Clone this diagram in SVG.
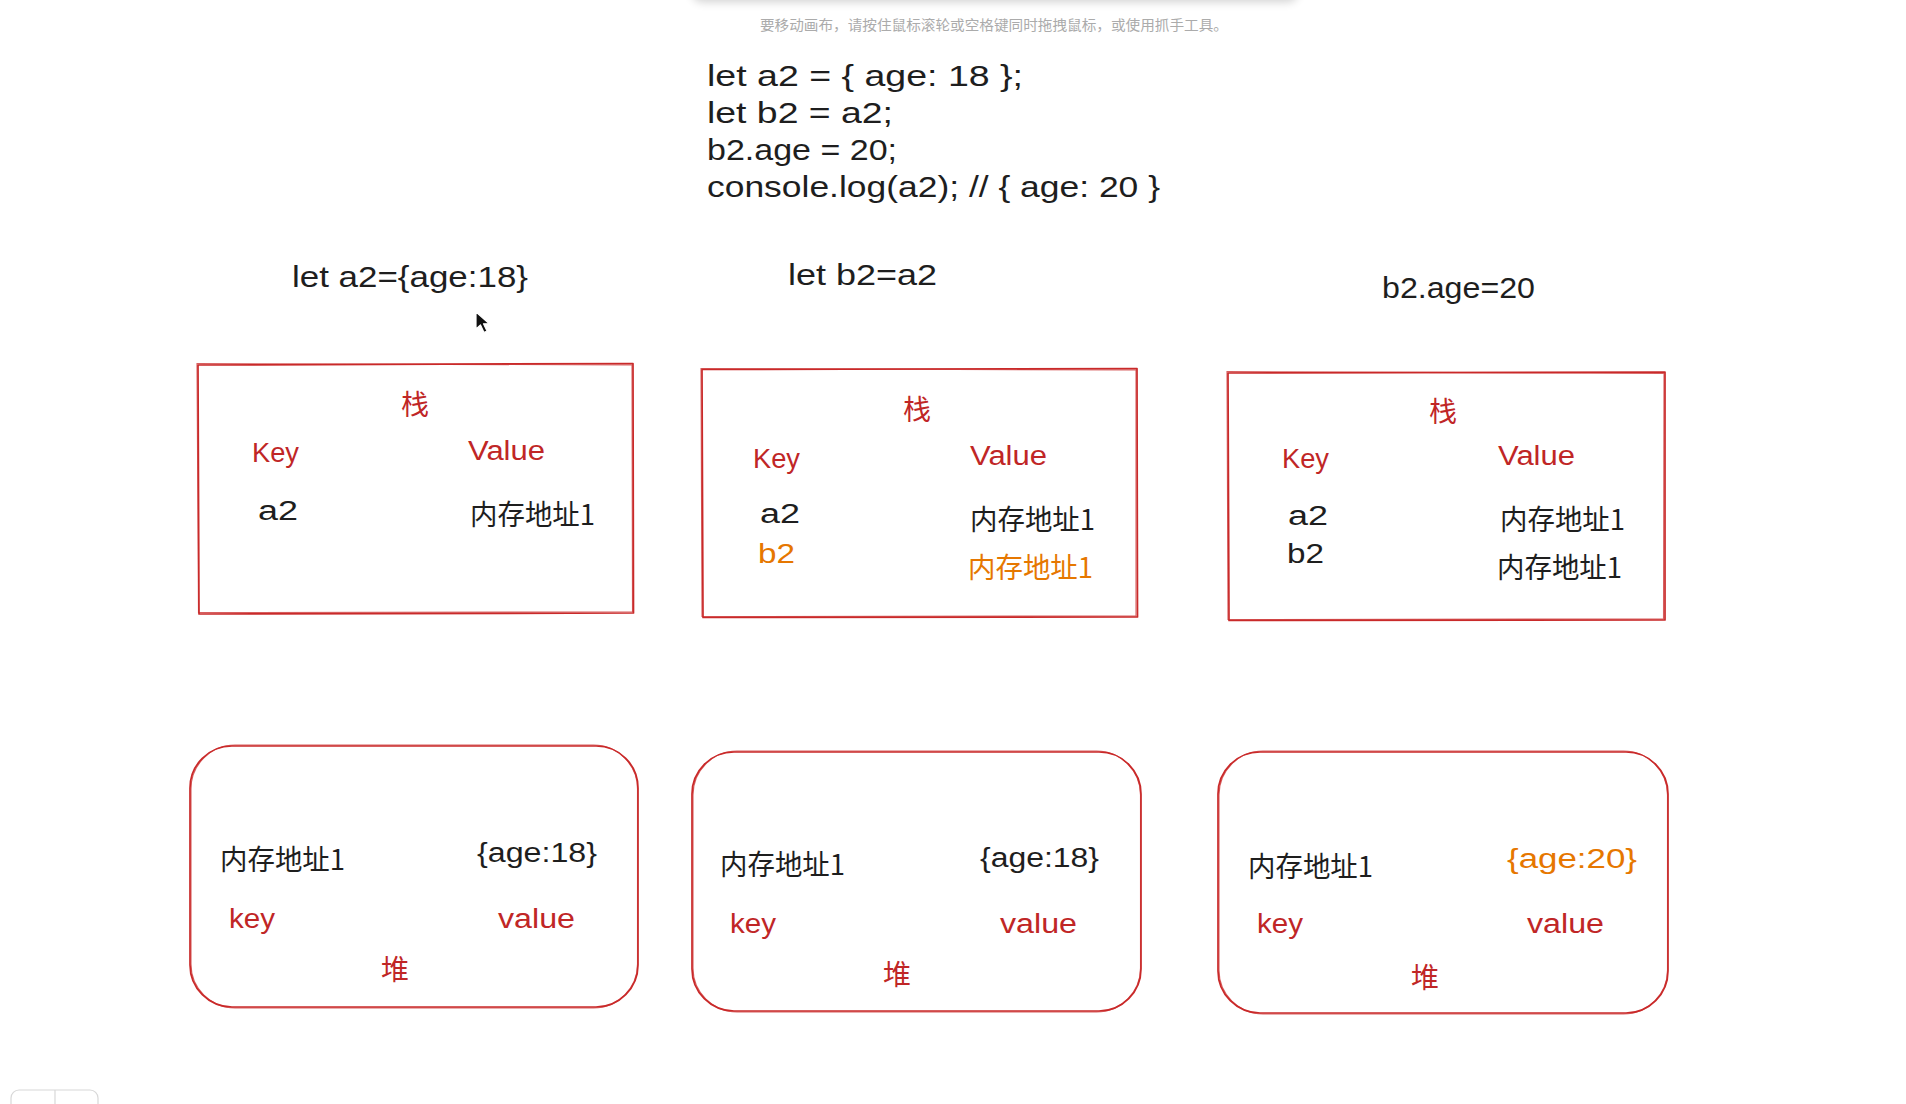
<svg xmlns="http://www.w3.org/2000/svg" width="1906" height="1104" viewBox="0 0 1906 1104">
<defs>
<filter id="sh" x="-10%" y="-100%" width="120%" height="400%">
<feGaussianBlur stdDeviation="5"/>
</filter>
<style>
.box{fill:none;stroke:#c92a2a;stroke-width:1.7;stroke-linejoin:round}
.box2{fill:none;stroke:#c92a2a;stroke-width:1.1;opacity:.75}
.lat{font-family:"Liberation Sans","Noto Sans CJK SC",sans-serif}
.cjk{font-family:"Noto Sans CJK SC","Liberation Sans",sans-serif}
.red{fill:#c02626}
.org{fill:#e67700}
.blk{fill:#1e1e1e}
.code{font-size:29px}
.head{font-size:30px}
.lbl{font-size:27px}
.var{font-size:27px}
.addr{font-size:28px}
.hz{font-size:28px}
.obj{font-size:27px}
</style>
</defs>
<rect width="1906" height="1104" fill="#ffffff"/>

<!-- top UI shadow and hint -->
<g id="ui-top">
<rect x="692" y="-30" width="606" height="32" rx="10" fill="#000" opacity="0.18" filter="url(#sh)"/>
<rect x="680" y="-40" width="630" height="40" fill="#ffffff"/>
<text x="760" y="30" class="cjk" font-size="14" fill="#ababab" textLength="468" lengthAdjust="spacingAndGlyphs">要移动画布，请按住鼠标滚轮或空格键同时拖拽鼠标，或使用抓手工具。</text>
</g>

<!-- code block -->
<g id="code">
<text x="707" y="86" class="lat code blk" textLength="316" lengthAdjust="spacingAndGlyphs">let a2 = { age: 18 };</text>
<text x="707" y="123" class="lat code blk" textLength="186" lengthAdjust="spacingAndGlyphs">let b2 = a2;</text>
<text x="707" y="160" class="lat code blk" textLength="190" lengthAdjust="spacingAndGlyphs">b2.age = 20;</text>
<text x="707" y="197" class="lat code blk" textLength="453" lengthAdjust="spacingAndGlyphs">console.log(a2); // { age: 20 }</text>
</g>

<!-- step headings -->
<g id="heading-1"><text x="292" y="287" class="lat head blk" textLength="236" lengthAdjust="spacingAndGlyphs">let a2={age:18}</text></g>
<g id="heading-2"><text x="788" y="285" class="lat head blk" textLength="149" lengthAdjust="spacingAndGlyphs">let b2=a2</text></g>
<g id="heading-3"><text x="1382" y="298" class="lat head blk" textLength="153" lengthAdjust="spacingAndGlyphs">b2.age=20</text></g>

<!-- mouse cursor -->
<g id="cursor">
<path d="M476,312 L476,329 L480.5,325 L484,332.5 L487,331 L483.5,323.8 L489,323.5 Z" fill="#111" stroke="#fff" stroke-width="1.2" stroke-linejoin="round"/>
</g>

<!-- stack 1 -->
<g id="stack-1">
<path class="box" d="M198,365 L633,363.5 L633.5,613 L199,614 Z"/>
<path class="box2" d="M197,363.5 L632,365 L632.5,612 L198.5,612.5 Z"/>
<text x="415" y="415" text-anchor="middle" class="cjk hz red">栈</text>
<text x="252" y="462" class="lat lbl red" textLength="47" lengthAdjust="spacingAndGlyphs">Key</text>
<text x="468" y="460" class="lat lbl red" textLength="77" lengthAdjust="spacingAndGlyphs">Value</text>
<text x="258" y="520" class="lat var blk" textLength="40" lengthAdjust="spacingAndGlyphs">a2</text>
<text x="470" y="525" class="cjk addr blk" textLength="125" lengthAdjust="spacingAndGlyphs">内存地址1</text>
</g>

<!-- stack 2 -->
<g id="stack-2">
<path class="box" d="M702,369.5 L1137,368.5 L1137.5,617 L703,617.5 Z"/>
<path class="box2" d="M701,368.5 L1136,370 L1136,616 L702,616.5 Z"/>
<text x="917" y="420" text-anchor="middle" class="cjk hz red">栈</text>
<text x="753" y="468" class="lat lbl red" textLength="47" lengthAdjust="spacingAndGlyphs">Key</text>
<text x="970" y="465" class="lat lbl red" textLength="77" lengthAdjust="spacingAndGlyphs">Value</text>
<text x="760" y="523" class="lat var blk" textLength="40" lengthAdjust="spacingAndGlyphs">a2</text>
<text x="758" y="563" class="lat var org" textLength="37" lengthAdjust="spacingAndGlyphs">b2</text>
<text x="970" y="530" class="cjk addr blk" textLength="125" lengthAdjust="spacingAndGlyphs">内存地址1</text>
<text x="968" y="578" class="cjk addr org" textLength="125" lengthAdjust="spacingAndGlyphs">内存地址1</text>
</g>

<!-- stack 3 -->
<g id="stack-3">
<path class="box" d="M1228,373 L1665,372 L1665,620 L1229,620.5 Z"/>
<path class="box2" d="M1227,371.5 L1664,373.5 L1663.5,619 L1228,619.5 Z"/>
<text x="1443" y="422" text-anchor="middle" class="cjk hz red">栈</text>
<text x="1282" y="468" class="lat lbl red" textLength="47" lengthAdjust="spacingAndGlyphs">Key</text>
<text x="1498" y="465" class="lat lbl red" textLength="77" lengthAdjust="spacingAndGlyphs">Value</text>
<text x="1288" y="525" class="lat var blk" textLength="40" lengthAdjust="spacingAndGlyphs">a2</text>
<text x="1287" y="563" class="lat var blk" textLength="37" lengthAdjust="spacingAndGlyphs">b2</text>
<text x="1500" y="530" class="cjk addr blk" textLength="125" lengthAdjust="spacingAndGlyphs">内存地址1</text>
<text x="1497" y="578" class="cjk addr blk" textLength="125" lengthAdjust="spacingAndGlyphs">内存地址1</text>
</g>

<!-- heap 1 -->
<g id="heap-1">
<rect class="box" x="190" y="746" width="448" height="261" rx="42"/>
<rect class="box2" x="191" y="745" width="446.5" height="263" rx="44"/>
<text x="220" y="870" class="cjk addr blk" textLength="125" lengthAdjust="spacingAndGlyphs">内存地址1</text>
<text x="477" y="862" class="lat obj blk" textLength="120" lengthAdjust="spacingAndGlyphs">{age:18}</text>
<text x="229" y="928" class="lat lbl red" textLength="46" lengthAdjust="spacingAndGlyphs">key</text>
<text x="498" y="928" class="lat lbl red" textLength="77" lengthAdjust="spacingAndGlyphs">value</text>
<text x="395" y="980" text-anchor="middle" class="cjk hz red">堆</text>
</g>

<!-- heap 2 -->
<g id="heap-2">
<rect class="box" x="692" y="752" width="449" height="259" rx="42"/>
<rect class="box2" x="693" y="751" width="447.5" height="261" rx="44"/>
<text x="720" y="875" class="cjk addr blk" textLength="125" lengthAdjust="spacingAndGlyphs">内存地址1</text>
<text x="980" y="867" class="lat obj blk" textLength="119" lengthAdjust="spacingAndGlyphs">{age:18}</text>
<text x="730" y="933" class="lat lbl red" textLength="46" lengthAdjust="spacingAndGlyphs">key</text>
<text x="1000" y="933" class="lat lbl red" textLength="77" lengthAdjust="spacingAndGlyphs">value</text>
<text x="897" y="985" text-anchor="middle" class="cjk hz red">堆</text>
</g>

<!-- heap 3 -->
<g id="heap-3">
<rect class="box" x="1218" y="752" width="450" height="261" rx="42"/>
<rect class="box2" x="1219" y="751" width="448.5" height="263" rx="44"/>
<text x="1248" y="877" class="cjk addr blk" textLength="125" lengthAdjust="spacingAndGlyphs">内存地址1</text>
<text x="1507" y="868" class="lat obj org" textLength="130" lengthAdjust="spacingAndGlyphs">{age:20}</text>
<text x="1257" y="933" class="lat lbl red" textLength="46" lengthAdjust="spacingAndGlyphs">key</text>
<text x="1527" y="933" class="lat lbl red" textLength="77" lengthAdjust="spacingAndGlyphs">value</text>
<text x="1425" y="988" text-anchor="middle" class="cjk hz red">堆</text>
</g>

<g id="connectors"></g>

<!-- bottom-left UI control -->
<g id="ui-bottom">
<rect x="11" y="1090" width="87" height="34" rx="8" fill="#fff" stroke="#d8d8d8" stroke-width="1.2"/>
<line x1="55" y1="1090" x2="55" y2="1104" stroke="#d8d8d8" stroke-width="1.2"/>
</g>
</svg>
